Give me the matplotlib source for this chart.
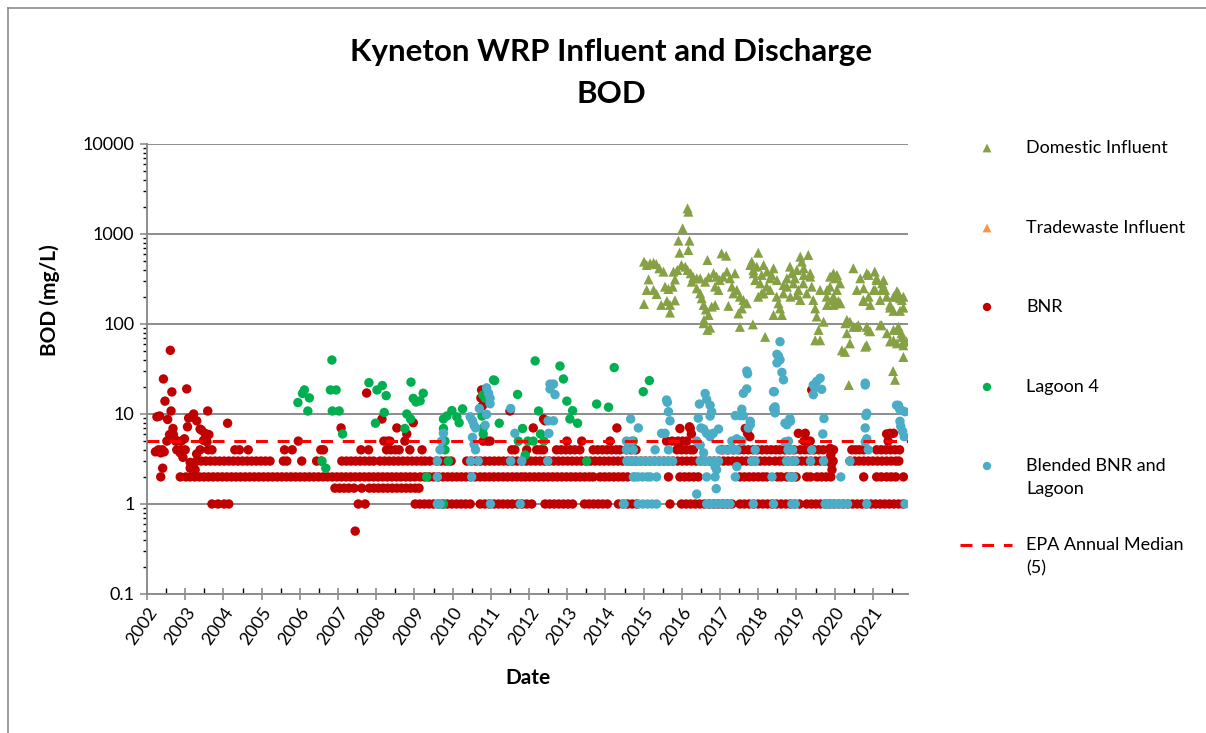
"""Kyneton WRP influent and discharge BOD, log scale, 2002-2021."""

import matplotlib.pyplot as plt
from matplotlib.ticker import FixedLocator, LogLocator, NullFormatter

OUT_PNG = "out.png"
W, H = 1206, 733

plt.rcParams["font.family"] = ["Lato", "DejaVu Sans"]

YEARS = list(range(2002, 2022))
X_MIN, X_MAX = 2002.0, 2021.92
EPA_MEDIAN = 5.0

# --- Domestic influent (decimal year, mg/L) ---
dom_t = [
    2015.01, 2015.08, 2015.17, 2015.26, 2015.33, 2015.41, 2015.52, 2015.13, 2015.08, 2015.26,
    2015.34, 2015.01, 2015.46, 2015.61, 2015.69, 2015.69, 2015.82, 2015.56, 2015.65, 2015.76,
    2015.82, 2015.78, 2015.88, 2015.99, 2016.09, 2016.15, 2016.23, 2016.30, 2016.39, 2016.26,
    2016.39, 2016.48, 2016.52, 2016.57, 2016.63, 2016.70, 2016.58, 2016.67, 2016.74, 2016.57,
    2016.67, 2016.48, 2016.61, 2016.70, 2016.83, 2016.91, 2016.99, 2016.87, 2016.96, 2016.87,
    2016.78, 2017.04, 2017.16, 2017.08, 2017.18, 2017.26, 2017.39, 2017.31, 2017.44, 2017.22,
    2017.35, 2017.52, 2017.61, 2017.57, 2017.48, 2017.52, 2017.70, 2017.86,
    2016.15, 2016.17, 2016.02, 2015.91, 2016.20, 2015.94, 2016.17,
    2017.79, 2018.00, 2017.87, 2017.96, 2018.14, 2017.92, 2018.05, 2018.09, 2018.00, 2018.18,
    2018.22, 2018.35, 2018.40, 2018.31, 2018.48, 2018.40, 2018.62, 2018.57, 2018.53, 2018.66,
    2018.75, 2018.83, 2018.88, 2018.96, 2019.01, 2019.10, 2019.14, 2019.31, 2019.05, 2019.18,
    2019.27, 2019.36, 2019.40, 2019.44, 2019.49, 2019.53, 2019.58, 2019.49, 2019.62, 2019.62,
    2019.71, 2017.83, 2018.23, 2017.88, 2018.09, 2018.31, 2018.49, 2018.66, 2019.19, 2018.75,
    2018.92, 2019.19, 2019.36, 2018.14, 2018.84, 2019.01, 2019.10,
    2019.88, 2019.97, 2020.01, 2019.88, 2020.06, 2020.14, 2019.97, 2019.79, 2020.10, 2019.97,
    2020.06, 2019.80, 2019.93, 2020.01, 2019.80, 2020.15,
    2020.19, 2020.27, 2020.32, 2020.40, 2020.32, 2020.37,
    2020.49, 2020.58, 2020.67, 2020.84, 2021.05, 2020.75, 2020.49, 2020.62, 2020.84, 2020.88,
    2020.80, 2020.84, 2021.23, 2020.93, 2021.10, 2021.28, 2021.02, 2021.23, 2021.36, 2021.45,
    2021.54, 2021.63, 2021.71, 2021.80, 2021.54, 2021.71, 2021.80, 2021.54, 2021.67, 2021.75,
    2021.45, 2021.80, 2021.63, 2021.53, 2021.58, 2021.80, 2020.76, 2020.89, 2021.10, 2021.24,
    2021.32, 2021.06, 2020.89, 2020.76, 2021.19, 2021.45, 2021.63, 2021.76, 2021.67, 2020.28,
    2020.40, 2020.58, 2020.93, 2021.19, 2021.37, 2021.63, 2021.76, 2021.54, 2021.88, 2021.80,
]
dom_v = [
    493, 453, 472, 478, 463, 416, 382, 313, 239, 239,
    215, 167, 163, 180, 163, 134, 183, 260, 245, 260,
    313, 382, 398, 453, 434, 398, 366, 331, 322, 295,
    249, 219, 193, 163, 145, 126, 111, 86, 91, 102,
    514, 322, 295, 331, 366, 336, 308, 260, 239, 163,
    156, 609, 574, 336, 382, 322, 366, 260, 239, 159,
    219, 201, 185, 149, 131, 93, 170, 99,
    1928, 1770, 1156, 843, 843, 620, 664,
    453, 620, 398, 434, 453, 308, 283, 219, 201, 72,
    260, 351, 416, 239, 201, 126, 126, 149, 170, 219,
    260, 434, 366, 322, 398, 560, 493, 585, 239, 283,
    219, 336, 260, 185, 149, 121, 86, 66, 66, 239,
    106, 493, 382, 366, 351, 322, 308, 271, 416, 322,
    283, 351, 366, 219, 201, 210, 185,
    336, 366, 322, 260, 239, 283, 201, 201, 180, 163,
    351, 239, 185, 170, 163, 170,
    51, 49, 79, 61, 111, 21,
    416, 239, 322, 366, 382, 185, 93, 97, 93, 86,
    56, 58, 97, 163, 308, 308, 239, 239, 201, 152,
    201, 232, 193, 201, 140, 140, 152, 86, 93, 79,
    64, 64, 61, 30, 24, 43, 249, 351, 322, 283,
    239, 239, 201, 180, 185, 163, 201, 185, 219, 102,
    106, 93, 83, 97, 79, 86, 72, 66, 64, 58,
]

# --- Tradewaste influent: no results in this period ---
trade_t = []
trade_v = []

# --- BNR effluent: most results sit on the lab's reporting steps ---
bnr_step_1 = [
    2003.70, 2003.86, 2004.02, 2004.14, 2007.53, 2007.71,
    2009.02, 2009.14, 2009.26, 2009.38, 2009.50, 2009.62, 2009.74, 2009.86, 2009.98, 2010.10,
    2010.22, 2010.34, 2010.46, 2010.72, 2010.84, 2010.96, 2011.08, 2011.20, 2011.32, 2011.44,
    2011.56, 2011.70, 2011.82, 2011.94, 2012.07, 2012.42, 2012.54, 2012.66, 2012.78, 2012.90,
    2013.02, 2013.14, 2013.45, 2013.57, 2013.69, 2013.81, 2013.93, 2014.05, 2014.34, 2014.46,
    2014.58, 2014.70, 2014.82, 2015.69, 2015.99, 2016.11, 2016.23, 2016.35, 2016.47, 2016.59,
    2016.71, 2016.83, 2016.95, 2017.07, 2017.19, 2017.31, 2017.52, 2017.64, 2017.76, 2017.88,
    2018.00, 2018.12, 2018.24, 2018.36, 2018.48, 2018.60, 2018.72, 2018.84, 2018.96, 2019.08,
    2019.27, 2019.39, 2019.51, 2019.63, 2019.75, 2019.87, 2019.99, 2020.11, 2020.23, 2020.35,
    2020.47, 2020.59, 2020.71, 2020.83, 2020.95, 2021.07, 2021.19, 2021.31, 2021.43, 2021.55,
    2021.67, 2021.79,
]
bnr_step_1_5 = [
    2006.92, 2007.04, 2007.16, 2007.28, 2007.42, 2007.62, 2007.82, 2007.94, 2008.06, 2008.18,
    2008.30, 2008.42, 2008.54, 2008.66, 2008.78, 2008.90, 2009.02, 2009.12,
]
bnr_step_2 = [
    2002.36, 2002.87, 2003.02,
    2003.13, 2003.25, 2003.37, 2003.49, 2003.61, 2003.73, 2003.85, 2003.97, 2004.09, 2004.21,
    2004.33, 2004.45, 2004.57, 2004.69, 2004.81, 2004.93, 2005.05, 2005.17, 2005.29, 2005.41,
    2005.53, 2005.65, 2005.77, 2005.89, 2006.01, 2006.13, 2006.25, 2006.37, 2006.49, 2006.61,
    2006.73, 2006.85, 2006.97, 2007.09, 2007.21, 2007.33, 2007.45, 2007.57, 2007.69, 2007.81,
    2007.93, 2008.05, 2008.17, 2008.29, 2008.41, 2008.53, 2008.65, 2008.77, 2008.89, 2009.01,
    2009.15, 2009.27, 2009.39, 2009.51, 2009.63, 2009.75, 2009.87, 2009.99, 2010.11, 2010.23,
    2010.35, 2010.47, 2010.59, 2010.72, 2010.84, 2010.96, 2011.08, 2011.20, 2011.32, 2011.44,
    2011.56, 2011.68, 2011.80, 2011.90, 2012.02, 2012.14, 2012.26, 2012.38, 2012.50, 2012.62,
    2012.74, 2012.86, 2012.98, 2013.10, 2013.22, 2013.34, 2013.46, 2013.58, 2013.68, 2013.86,
    2013.98, 2014.10, 2014.22, 2014.34, 2014.46, 2014.58, 2015.65, 2015.95, 2016.07, 2016.19,
    2016.31, 2016.43, 2017.52, 2017.64, 2017.76, 2017.88, 2018.00, 2018.12, 2018.22, 2018.50,
    2018.60, 2018.75, 2018.87, 2018.99, 2019.27, 2019.37, 2019.54, 2019.66, 2019.78, 2019.90,
    2020.76, 2021.10, 2021.22, 2021.36, 2021.48, 2021.60, 2021.80,
]
bnr_step_3 = [
    2003.30, 2003.42, 2003.54, 2003.66, 2003.78, 2003.90, 2004.02, 2004.14, 2004.26, 2004.38,
    2004.50, 2004.62, 2004.74, 2004.86, 2004.98, 2005.10, 2005.22, 2005.57, 2005.66, 2006.05,
    2006.44, 2006.56, 2007.10, 2007.22, 2007.34, 2007.46, 2007.58, 2007.70, 2007.82, 2007.93,
    2008.10, 2008.22, 2008.34, 2008.46, 2008.58, 2008.70, 2008.82, 2008.94, 2009.06, 2009.18,
    2009.28, 2009.40, 2009.58, 2009.70, 2009.82, 2009.96,
    2010.37, 2010.49, 2010.61, 2010.73, 2010.85, 2010.97, 2011.09, 2011.21, 2011.33, 2011.45,
    2011.57, 2011.69, 2011.81, 2011.93, 2012.05, 2012.17, 2012.29, 2012.41, 2012.53, 2012.65,
    2012.77, 2012.89, 2013.01, 2013.13, 2013.25, 2013.37, 2013.49, 2013.61, 2013.73, 2013.85,
    2013.97, 2014.09, 2014.21, 2014.33, 2014.45, 2014.57, 2014.69, 2014.81, 2014.93, 2015.05,
    2015.17, 2015.29, 2015.41, 2015.53, 2015.65, 2015.77, 2015.89, 2016.01, 2016.13, 2016.25,
    2016.37, 2016.49, 2016.61, 2016.73, 2016.85, 2016.97, 2017.09, 2017.21, 2017.33, 2017.45,
    2017.57, 2017.69, 2017.81, 2017.93, 2018.05, 2018.17, 2018.29, 2018.44, 2018.56, 2018.66,
    2018.78, 2018.90, 2019.02, 2019.14, 2019.26, 2019.38, 2019.50, 2019.62, 2019.74, 2019.86,
    2019.96, 2020.40, 2020.52, 2020.64, 2020.76, 2020.88, 2021.00, 2021.12, 2021.24, 2021.36,
    2021.48, 2021.60, 2021.68,
]
bnr_step_4 = [
    2002.30, 2002.40, 2002.88, 2003.00, 2003.60, 2003.70, 2004.30, 2004.42, 2004.65, 2005.60,
    2005.80, 2006.55, 2006.62, 2007.60, 2007.80, 2008.27, 2008.38, 2008.50, 2008.60, 2008.88,
    2009.20, 2011.55, 2011.63, 2011.94, 2012.20, 2012.30, 2012.38, 2012.72, 2012.84, 2012.96,
    2013.08, 2013.20, 2013.33, 2013.68, 2013.80, 2013.92, 2014.04, 2014.16, 2014.28, 2014.38,
    2014.55, 2014.67, 2014.80, 2015.87, 2015.99, 2016.11, 2016.23, 2016.30, 2017.05, 2017.20,
    2017.35, 2017.50, 2017.62, 2017.74, 2017.86, 2017.98, 2018.10, 2018.22, 2018.34, 2018.46,
    2018.57, 2018.70, 2018.82, 2018.94, 2019.10, 2019.22, 2019.34, 2019.46, 2019.58, 2019.70,
    2019.88, 2019.97, 2020.45, 2020.55, 2020.65, 2020.76, 2021.10, 2021.22, 2021.34, 2021.46,
    2021.58, 2021.70,
]
bnr_step_5 = [
    2002.52, 2002.75, 2002.90, 2005.96, 2008.20, 2008.30, 2008.36, 2008.75, 2010.80, 2010.90,
    2010.98, 2012.99, 2013.38, 2014.12, 2015.60, 2015.75, 2015.90, 2016.02, 2016.13, 2019.20,
    2019.30, 2019.36, 2021.40,
]
# BNR results off the reporting steps
bnr_odd_t = [
    2002.33, 2002.43, 2002.47, 2002.54, 2002.61, 2002.63, 2002.65, 2002.68, 2002.59, 2002.69,
    2002.76, 2002.98, 2002.36, 2002.45, 2002.78, 2002.87, 2002.94, 2002.41, 2002.26, 2002.22,
    2003.04, 2003.09, 2003.06, 2003.22, 2003.30, 2003.13, 2003.13, 2003.20, 2003.26, 2003.30,
    2003.39, 2003.43, 2003.52, 2003.62, 2003.59, 2003.39, 2003.48, 2003.57, 2004.11,
    2007.08, 2007.45, 2007.75, 2008.15, 2008.54, 2008.80, 2008.97,
    2010.76, 2010.74, 2010.78, 2011.50, 2012.11, 2012.38, 2012.42, 2014.30,
    2015.95, 2016.20, 2016.22, 2016.25, 2017.66, 2017.72, 2017.78, 2019.05, 2019.23, 2019.40,
    2019.88, 2019.90, 2019.92, 2019.93, 2021.36, 2021.45, 2021.54, 2015.92,
]
bnr_odd_v = [
    9.5, 24.5, 13.9, 8.7, 51, 10.8, 17.6, 6.9, 5.9, 5.9,
    5.1, 5.3, 3.7, 3.8, 4.0, 3.7, 3.3, 2.5, 9.3, 3.8,
    19, 9.0, 7.2, 10, 8.4, 2.9, 2.5, 2.6, 2.4, 3.6,
    4.0, 6.6, 6.1, 5.9, 10.8, 6.8, 5.1, 4.9, 7.9,
    7.0, 0.5, 17.1, 8.8, 7.0, 6.0, 8.0,
    18.5, 15.1, 12.3, 10.8, 7.0, 8.8, 8.4, 7.0,
    6.9, 7.2, 6.9, 6.0, 6.9, 6.1, 5.6, 6.1, 6.1, 18.5,
    4.15, 3.5, 2.8, 2.4, 6.0, 6.1, 6.1, 4.5,
]

# --- Lagoon 4 ---
lag_t = [
    2005.95, 2006.07, 2006.12, 2006.25, 2006.21, 2006.58, 2006.68, 2006.80, 2006.84, 2006.95,
    2006.85, 2007.03, 2007.12, 2007.81, 2007.98, 2008.02, 2008.16, 2008.21, 2008.26, 2008.75,
    2008.80, 2008.90, 2008.91, 2008.97, 2009.04, 2009.15, 2009.23, 2009.32, 2009.76, 2009.76,
    2009.80, 2009.80, 2009.89, 2009.76, 2009.85, 2009.98, 2010.11, 2010.17, 2010.26, 2010.79,
    2010.85, 2010.77, 2010.80, 2010.80, 2011.07, 2011.10, 2011.22, 2011.70, 2011.72, 2011.83,
    2011.90, 2011.97, 2012.11, 2012.16, 2012.25, 2012.30, 2012.39, 2012.81, 2012.90, 2012.99,
    2013.07, 2013.14, 2013.27, 2013.51, 2013.77, 2014.08, 2014.23, 2014.73, 2014.99, 2015.15,
]
lag_v = [
    13.4, 16.9, 18.5, 15.1, 10.8, 3.0, 2.5, 18.5, 39.8, 18.5,
    10.8, 10.8, 6.0, 22.3, 7.9, 18.5, 20.7, 10.4, 16.0, 6.9,
    10.0, 8.8, 22.6, 14.9, 13.6, 14.0, 17.0, 2.0, 8.8, 6.9,
    5.0, 4.0, 3.0, 1.0, 9.5, 10.9, 9.3, 8.0, 11.4, 16.3,
    15.0, 9.5, 7.0, 6.0, 23.9, 23.5, 7.9, 16.5, 5.0, 6.9,
    3.5, 5.0, 5.0, 38.9, 10.8, 6.0, 5.0, 34.1, 24.5, 13.9,
    8.8, 10.9, 7.9, 3.0, 12.9, 11.9, 32.8, 5.0, 17.7, 23.5,
]

# --- Blended BNR and Lagoon ---
blend_t = [
    2009.60, 2009.67, 2009.71, 2009.76, 2009.60, 2009.60, 2009.67,
    2010.46, 2010.52, 2010.56, 2010.60, 2010.52, 2010.56, 2010.60, 2010.47, 2010.67, 2010.50,
    2010.70, 2010.89, 2010.94, 2010.98, 2010.98, 2010.89, 2010.85, 2010.99,
    2011.52, 2011.63, 2011.52, 2011.81, 2011.77,
    2012.50, 2012.64, 2012.52, 2012.49, 2012.55, 2012.64, 2012.55, 2012.68,
    2014.47, 2014.55, 2014.68, 2014.55, 2014.73, 2014.60, 2014.77, 2014.77, 2014.66, 2014.86,
    2014.86, 2014.56, 2014.68, 2014.80, 2014.92, 2015.04, 2015.16, 2015.28, 2015.40, 2015.52,
    2015.64, 2015.76, 2014.73, 2014.85, 2014.97, 2015.09, 2015.17, 2015.34, 2014.49, 2014.98,
    2015.10, 2015.22, 2015.34, 2015.30, 2015.47, 2015.56, 2015.60, 2015.62, 2015.65, 2015.69,
    2015.65,
    2016.39, 2016.43, 2016.46, 2016.61, 2016.65, 2016.74, 2016.78, 2016.74, 2016.50, 2016.57,
    2016.65, 2016.74, 2016.82, 2016.96, 2016.39, 2016.48, 2016.57, 2016.48, 2016.60, 2016.72,
    2016.84, 2016.96, 2016.87, 2016.91, 2016.65, 2016.87, 2016.90, 2016.65, 2016.77, 2016.89,
    2017.01, 2017.13, 2017.26,
    2017.00, 2017.12, 2017.24, 2017.36, 2017.44, 2017.31, 2017.44, 2017.57, 2017.40, 2017.53,
    2017.61, 2017.57, 2017.61, 2017.70, 2017.72, 2017.70, 2017.74, 2017.79, 2017.44, 2017.40,
    2017.83, 2017.92, 2017.92, 2017.87, 2017.88, 2017.79,
    2018.40, 2018.44, 2018.44, 2018.42, 2018.49, 2018.53, 2018.57, 2018.49, 2018.62, 2018.66,
    2018.57, 2018.70, 2018.83, 2018.70, 2018.79, 2018.74, 2018.96, 2018.83, 2018.92, 2018.88,
    2018.36, 2018.40, 2018.44, 2018.40, 2018.75, 2018.84, 2018.97, 2018.88, 2018.78, 2018.90,
    2019.44, 2019.53, 2019.62, 2019.48, 2019.44, 2019.66, 2019.72, 2019.69, 2019.40, 2019.37,
    2019.71, 2019.80, 2019.97, 2019.75, 2019.88,
    2020.10, 2020.22, 2020.34, 2020.16, 2020.40,
    2020.80, 2020.80, 2020.82, 2020.84, 2020.80, 2020.84, 2020.80, 2020.88, 2020.84,
    2021.62, 2021.67, 2021.70, 2021.75, 2021.84, 2021.71, 2021.73, 2021.78, 2021.82, 2021.84,
]
blend_v = [
    3, 4, 5, 6.1, 2, 1, 1,
    9.3, 8.4, 7.5, 7.0, 5.5, 4.6, 4.0, 3, 3, 2,
    11.5, 19.5, 17, 15, 13, 9.9, 7.5, 1,
    11.5, 6.1, 3, 3, 1,
    8.4, 8.4, 6.1, 3, 21.5, 21.5, 19, 16.4,
    1, 5, 5, 4, 4, 3, 3, 2, 8.8, 7,
    1, 3, 3, 3, 3, 3, 3, 3, 3, 3,
    3, 3, 2, 2, 2, 2, 2, 2, 1, 1,
    1, 1, 1, 4, 6.1, 6.1, 14.3, 13.5, 10.6, 8.4,
    4,
    1.29, 9, 12.9, 16.9, 14.5, 12.5, 10.6, 9.5, 7, 6.8,
    6.1, 5.6, 6.1, 6.8, 5, 4.5, 3.7, 3, 3, 3,
    3, 3, 2.6, 2.4, 2, 2, 1.48, 1, 1, 1,
    1, 1, 1,
    4, 4, 4, 4, 4, 5, 5.3, 5, 9.6, 9.6,
    9.6, 11.3, 17, 19, 28, 30, 7, 8.3, 2.6, 2,
    3, 3, 4, 1, 3, 7.6,
    11.5, 11, 12, 17.7, 46, 44, 40, 37, 29, 24,
    63.6, 7.9, 8.9, 4.9, 5, 3, 3, 2, 2, 1,
    2, 1, 10.3, 17.7, 7.6, 8.3, 1, 3, 4, 4,
    21, 23, 25, 19.6, 16.4, 18.8, 8.9, 6.0, 4, 3,
    3, 1, 1, 1, 1,
    1, 1, 1, 2, 3,
    21, 22, 9.6, 10.2, 7, 5.3, 4.9, 4, 1,
    12.5, 12.5, 11.3, 11, 10.6, 8.3, 7.3, 6.4, 5.6, 1,
]

SERIES_STYLE = [
    ("Domestic Influent", "^", "#86A044"),
    ("Tradewaste Influent", "^", "#F79646"),
    ("BNR", "o", "#C00000"),
    ("Lagoon 4", "o", "#00B050"),
    ("Blended BNR and\nLagoon", "o", "#4BACC6"),
]
GRID_GREY = "#8c8c8c"
EPA_DASHES = (3.9, 3.2)


def main() -> None:
    bnr_t, bnr_v = [], []
    for step, dates in [(1, bnr_step_1), (1.5, bnr_step_1_5), (2, bnr_step_2),
                        (3, bnr_step_3), (4, bnr_step_4), (5, bnr_step_5)]:
        bnr_t += dates
        bnr_v += [step] * len(dates)
    bnr_t += bnr_odd_t
    bnr_v += bnr_odd_v

    data = [(dom_t, dom_v), (trade_t, trade_v), (bnr_t, bnr_v),
            (lag_t, lag_v), (blend_t, blend_v)]

    fig = plt.figure(figsize=(W / 100, H / 100), dpi=100)
    ax = fig.add_axes([147 / W, 1 - 594 / H, (908 - 147) / W, (594 - 144) / H])

    for (t, v), (name, mk, col) in zip(data, SERIES_STYLE):
        if not t:  # tradewaste has nothing to draw
            continue
        size = 52 if mk == "^" else 46
        ax.scatter(t, v, marker=mk, s=size, color=col, edgecolors="none", zorder=3)

    ax.axhline(EPA_MEDIAN, color="#FF0000", lw=2.2, dashes=EPA_DASHES, zorder=4)

    ax.set_yscale("log")
    ax.set_ylim(0.1, 10000)
    ax.set_xlim(X_MIN, X_MAX)
    ax.set_yticks([0.1, 1, 10, 100, 1000, 10000])
    ax.set_yticklabels(["0.1", "1", "10", "100", "1000", "10000"])
    ax.yaxis.set_minor_locator(LogLocator(base=10, subs=range(2, 10)))
    ax.yaxis.set_minor_formatter(NullFormatter())
    ax.set_xticks(YEARS)
    ax.set_xticklabels([str(y) for y in YEARS], rotation=55, ha="right",
                       va="top", rotation_mode="anchor")
    ax.xaxis.set_minor_locator(FixedLocator([y + 0.5 for y in YEARS]))

    ax.tick_params(axis="both", colors=GRID_GREY, labelcolor="black", labelsize=13)
    ax.tick_params(axis="y", which="major", direction="out", length=5, width=1.2, pad=4)
    ax.tick_params(axis="y", which="minor", direction="out", length=3, width=1.0)
    ax.tick_params(axis="x", which="major", direction="inout", length=9, width=1.2, pad=3)
    ax.tick_params(axis="x", which="minor", direction="in", length=4, width=1.0)

    ax.grid(axis="y", which="major", color=GRID_GREY, lw=1.4, zorder=0)
    for side in ["top", "right"]:
        ax.spines[side].set_visible(False)
    for side in ["left", "bottom"]:
        ax.spines[side].set_color(GRID_GREY)
        ax.spines[side].set_linewidth(1.4)

    # overlay in pixel coordinates for titles, legend and chart border
    lax = fig.add_axes([0, 0, 1, 1])
    lax.set_xlim(0, W)
    lax.set_ylim(H, 0)
    lax.axis("off")
    lax.patch.set_alpha(0)

    lax.plot([7.5, 7.5], [7.5, H], color=GRID_GREY, lw=1.2)
    lax.plot([7.5, W], [7.5, 7.5], color=GRID_GREY, lw=1.2)

    lax.text(611, 52, "Kyneton WRP Influent and Discharge", ha="center", va="center",
             fontsize=22.5, fontweight="bold")
    lax.text(611, 94, "BOD", ha="center", va="center", fontsize=22.5, fontweight="bold")
    lax.text(50, 300, "BOD (mg/L)", ha="center", va="center", rotation=90,
             fontsize=15, fontweight="bold")
    lax.text(528, 678, "Date", ha="center", va="center", fontsize=15, fontweight="bold")

    legend_y = [148, 228, 307, 387, 466]
    for y, (name, mk, col) in zip(legend_y, SERIES_STYLE):
        lax.scatter([987], [y], marker=mk, s=40 if mk == "^" else 36, color=col,
                    edgecolors="none")
        lax.text(1026, y - 8, name, ha="left", va="top", fontsize=13,
                 linespacing=1.55)
    lax.plot([960, 1012], [545, 545], color="#FF0000", lw=2.2, dashes=EPA_DASHES)
    lax.text(1026, 537, "EPA Annual Median\n(5)", ha="left", va="top", fontsize=13,
             linespacing=1.55)

    fig.savefig(OUT_PNG, dpi=100)


if __name__ == "__main__":
    main()
